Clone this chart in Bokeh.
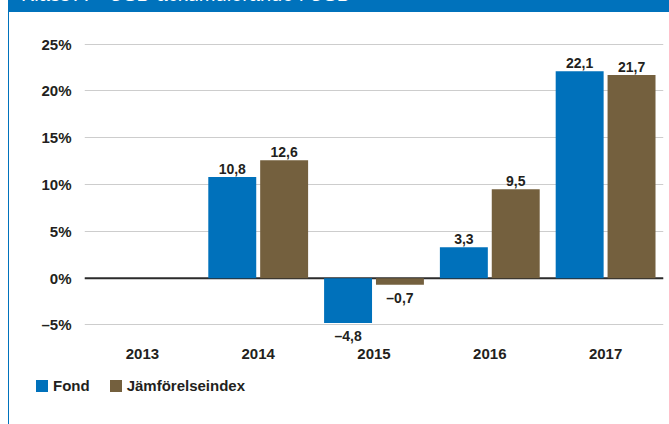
from bokeh.plotting import figure
from bokeh.models import (ColumnDataSource, FactorRange, FixedTicker, Span,
                          Legend, LegendItem, Div, Range1d)
from bokeh.transform import dodge
from bokeh.layouts import column
from bokeh.core.properties import value
from bokeh.embed import file_html
from bokeh.resources import INLINE

# ---- data ----
title_text = "Klass A – USD ackumulerande i USD"
years = ["2013", "2014", "2015", "2016", "2017"]
fond = [None, 10.8, -4.8, 3.3, 22.1]
jamf = [None, 12.6, -0.7, 9.5, 21.7]
series_names = ["Fond", "Jämförelseindex"]
y_ticks = [-5, 0, 5, 10, 15, 20, 25]
y_tick_labels = ["–5%", "0%", "5%", "10%", "15%", "20%", "25%"]

BLUE = "#0071bb"
BROWN = "#74603e"
HEAD = "#0072bc"
TEXT = "#231f20"
FONT = "Liberation Sans"
COLORS = [BLUE, BROWN]


def fmt(v):
    return f"{v:.1f}".replace(".", ",").replace("-", "–")


def make_source(vals, keep=lambda v: True):
    rows = [(y, v) for y, v in zip(years, vals) if v is not None and keep(v)]
    ys = [r[0] for r in rows]
    vs = [r[1] for r in rows]
    return ColumnDataSource(dict(year=ys, val=vs, label=[fmt(v) for v in vs]))


p = figure(x_range=FactorRange(factors=years, range_padding=0),
           y_range=(-7.2, 27), width=660, height=354,
           output_backend="svg", toolbar_location=None,
           min_border_left=75, min_border_right=6,
           min_border_top=13, min_border_bottom=21, margin=0)
p.frame_align = False
p.outline_line_color = None
p.background_fill_color = "white"
p.border_fill_color = "white"

p.ygrid.ticker = FixedTicker(ticks=y_ticks)
p.ygrid.grid_line_color = "#cdcdcd"
p.ygrid.grid_line_width = 1
p.xgrid.grid_line_color = None

zero = Span(location=0, dimension="width", line_color="#2b2b2b",
            line_width=2, level="underlay")
p.add_layout(zero)

off = 0.224
bw = 0.414
series_sources = []
for vals, d, col in ((fond, -off, BLUE), (jamf, off, BROWN)):
    src = make_source(vals)
    series_sources.append(src)
    p.vbar(x=dodge("year", d, range=p.x_range), top="val", bottom=0,
           width=bw, source=src, fill_color=col, line_color=None)
    pos = make_source(vals, lambda v: v >= 0)
    neg = make_source(vals, lambda v: v < 0)
    p.text(x=dodge("year", d, range=p.x_range), y="val", text="label",
           y_offset=-3, source=pos, text_align="center",
           text_baseline="bottom", text_font=value(FONT),
           text_font_size="14px", text_font_style="bold", text_color=TEXT)
    p.text(x=dodge("year", d, range=p.x_range), y="val", text="label",
           y_offset=5, source=neg, text_align="center",
           text_baseline="top", text_font=value(FONT),
           text_font_size="14px", text_font_style="bold", text_color=TEXT)

# axes
p.yaxis.ticker = FixedTicker(ticks=y_ticks)
p.yaxis.major_label_overrides = {t: l for t, l in zip(y_ticks, y_tick_labels)}
p.yaxis.axis_line_color = None
p.yaxis.major_tick_line_color = None
p.yaxis.minor_tick_line_color = None
p.yaxis.major_tick_out = 0
p.yaxis.major_tick_in = 0
p.yaxis.major_label_standoff = 13
p.yaxis.major_label_text_font = FONT
p.yaxis.major_label_text_font_size = "15px"
p.yaxis.major_label_text_font_style = "bold"
p.yaxis.major_label_text_color = TEXT

p.xaxis.axis_line_color = None
p.xaxis.major_tick_line_color = None
p.xaxis.major_tick_out = 0
p.xaxis.major_tick_in = 0
p.xaxis.major_label_standoff = 3
p.xaxis.major_label_text_font = FONT
p.xaxis.major_label_text_font_size = "15px"
p.xaxis.major_label_text_font_style = "bold"
p.xaxis.major_label_text_color = TEXT

# ---- legend strip: a separate small figure so the legend can sit left of
# the chart frame; its renderers hold the same series but lie outside its view
lg = figure(width=660, height=58, output_backend="svg", toolbar_location=None,
            x_axis_type=None, y_axis_type=None, min_border=0, margin=0,
            x_range=FactorRange(factors=years), y_range=Range1d(1000, 1001))
lg.frame_align = False
lg.outline_line_color = None
lg.xgrid.grid_line_color = None
lg.ygrid.grid_line_color = None
items = []
for name, col, src in zip(series_names, COLORS, series_sources):
    r = lg.vbar(x="year", top="val", bottom=0, width=0.4, source=src,
                fill_color=col, line_color=None)
    items.append(LegendItem(label=name, renderers=[r]))

legend = Legend(items=items, location=(25, 30), orientation="horizontal",
                glyph_width=15, glyph_height=15,
                label_standoff=4, spacing=18, padding=0, margin=0,
                border_line_color=None, background_fill_alpha=0,
                label_text_font=FONT, label_text_font_size="15px",
                label_text_font_style="bold", label_text_color=TEXT)
lg.add_layout(legend, "center")

header = Div(
    text=("<div style=\"position:relative;top:-16px;left:12px;white-space:nowrap;"
          "font-family:'Liberation Sans';font-size:20px;line-height:20px;color:white\">"
          + title_text + "</div>"),
    width=660, height=12, margin=0,
    styles={"background-color": HEAD, "overflow": "hidden"})

layout = column(header, p, lg, margin=(0, 0, 0, 8),
                styles={"border-left": f"1px solid {HEAD}"})

open("out.html", "w").write(file_html(layout, INLINE))
